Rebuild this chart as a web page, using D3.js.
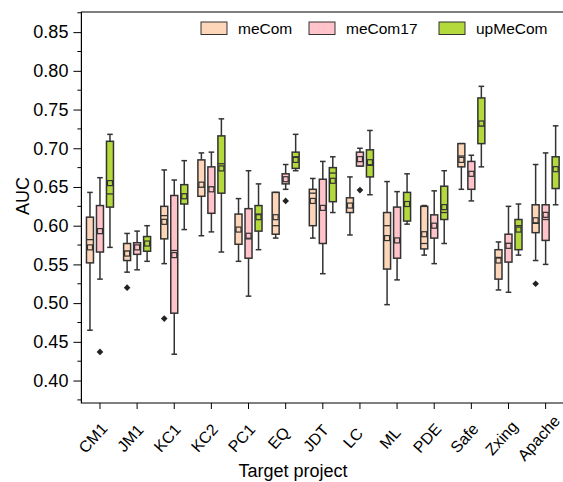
<!DOCTYPE html>
<html>
<head>
<meta charset="utf-8">
<script src="https://cdn.jsdelivr.net/npm/d3@7"></script>
<style>
  body { margin: 0; background: #fff; }
  text { font-family: "Liberation Sans", Arial, sans-serif; fill: #000; }
</style>
</head>
<body>
<div id="chart"></div>
<script>
// Categories and series
const categories = ["CM1", "JM1", "KC1", "KC2", "PC1", "EQ", "JDT", "LC", "ML", "PDE", "Safe", "Zxing", "Apache"];
const seriesNames = ["meCom", "meCom17", "upMeCom"];
const seriesColors = ["#fdd6b9", "#ffc3c9", "#b3d93d"];

// Each row: [whiskerLow, q1, median, q3, whiskerHigh, mean]
const meCom = [
    [0.465, 0.552, 0.582, 0.611, 0.643, 0.572],
    [0.540, 0.555, 0.567, 0.577, 0.590, 0.564],
    [0.551, 0.583, 0.613, 0.625, 0.672, 0.605],
    [0.587, 0.638, 0.650, 0.685, 0.694, 0.653],
    [0.554, 0.576, 0.593, 0.615, 0.635, 0.595],
    [0.584, 0.589, 0.600, 0.643, 0.643, 0.611],
    [0.584, 0.600, 0.642, 0.647, 0.661, 0.632],
    [0.588, 0.617, 0.624, 0.636, 0.663, 0.626],
    [0.498, 0.544, 0.600, 0.617, 0.657, 0.584],
    [0.562, 0.570, 0.577, 0.625, 0.626, 0.589],
    [0.647, 0.676, 0.690, 0.706, 0.706, 0.685],
    [0.517, 0.531, 0.559, 0.569, 0.579, 0.555],
    [0.555, 0.591, 0.603, 0.627, 0.679, 0.607]
];
const meCom17 = [
    [0.531, 0.566, 0.590, 0.626, 0.662, 0.593],
    [0.543, 0.563, 0.570, 0.578, 0.593, 0.572],
    [0.434, 0.487, 0.568, 0.639, 0.659, 0.562],
    [0.592, 0.616, 0.650, 0.676, 0.695, 0.647],
    [0.509, 0.558, 0.583, 0.622, 0.671, 0.587],
    [0.647, 0.654, 0.658, 0.667, 0.679, 0.660],
    [0.538, 0.577, 0.623, 0.660, 0.683, 0.623],
    [0.677, 0.677, 0.683, 0.695, 0.700, 0.686],
    [0.530, 0.558, 0.581, 0.624, 0.644, 0.581],
    [0.551, 0.584, 0.598, 0.614, 0.645, 0.600],
    [0.632, 0.647, 0.669, 0.683, 0.691, 0.667],
    [0.514, 0.553, 0.577, 0.589, 0.625, 0.574],
    [0.550, 0.581, 0.608, 0.627, 0.694, 0.614]
];
const upMeCom = [
    [0.572, 0.624, 0.641, 0.709, 0.718, 0.655],
    [0.554, 0.567, 0.579, 0.586, 0.600, 0.577],
    [0.595, 0.628, 0.641, 0.653, 0.684, 0.638],
    [0.566, 0.642, 0.680, 0.716, 0.738, 0.674],
    [0.569, 0.593, 0.615, 0.626, 0.654, 0.611],
    [0.671, 0.674, 0.689, 0.695, 0.718, 0.685],
    [0.617, 0.631, 0.668, 0.675, 0.689, 0.658],
    [0.640, 0.663, 0.678, 0.698, 0.723, 0.682],
    [0.602, 0.606, 0.630, 0.643, 0.667, 0.628],
    [0.577, 0.608, 0.617, 0.651, 0.671, 0.624],
    [0.676, 0.706, 0.729, 0.765, 0.780, 0.732],
    [0.562, 0.569, 0.600, 0.608, 0.628, 0.595],
    [0.627, 0.648, 0.675, 0.689, 0.729, 0.673]
];
// Outliers: [category, series, value]
const outliers = [
    ["CM1", "meCom17", 0.437],
    ["JM1", "meCom", 0.520],
    ["KC1", "meCom", 0.480],
    ["EQ", "meCom17", 0.632],
    ["LC", "meCom17", 0.646],
    ["Apache", "meCom", 0.525]
];
const yTicks = [0.40, 0.45, 0.50, 0.55, 0.60, 0.65, 0.70, 0.75, 0.80, 0.85];

const width = 563;
const height = 482;
const plotLeft = 81.4, plotTop = 12, plotBottom = 403, plotRight = 564.2;

const svg = d3.select("#chart").append("svg")
    .attr("width", width)
    .attr("height", height);

// Scales
const x = d3.scaleBand().domain(categories).range([plotLeft, plotRight]).padding(0);
const xSeries = d3.scalePoint().domain(seriesNames).range([-10, 10]);
const y = d3.scaleLinear().domain([0.371, 0.876]).range([plotBottom, plotTop]);
const color = d3.scaleOrdinal().domain(seriesNames).range(seriesColors);

// Y axis with minor ticks
const minorTicks = d3.range(0.375, 0.876, 0.05);
const yAxis = svg.append("g").attr("transform", `translate(${plotLeft},0)`);
yAxis.call(d3.axisLeft(y).tickValues(yTicks).tickFormat(d3.format(".2f")).tickSize(8).tickPadding(5));
yAxis.selectAll("text").attr("font-size", "18px");
yAxis.select(".domain").remove();
yAxis.selectAll(".minor")
    .data(minorTicks)
    .enter().append("line")
    .attr("class", "minor")
    .attr("x1", -4).attr("x2", 0)
    .attr("y1", d => y(d)).attr("y2", d => y(d))
    .attr("stroke", "#000");

// X axis, labels rotated about their centre
const xAxis = svg.append("g").attr("transform", `translate(0,${plotBottom})`);
xAxis.call(d3.axisBottom(x).tickSize(6).tickSizeOuter(0));
xAxis.select(".domain").remove();
xAxis.selectAll("text")
    .attr("font-size", "16px")
    .attr("text-anchor", "middle")
    .attr("x", 0).attr("y", 0)
    .attr("dy", "0.35em")
    .attr("transform", "translate(-7,35) rotate(-48)");

// Spines (left, top, bottom)
svg.append("path")
    .attr("d", `M${plotRight},${plotTop}H${plotLeft}V${plotBottom}H${plotRight}`)
    .attr("fill", "none")
    .attr("stroke", "#000")
    .attr("stroke-width", 1.2);

// Boxes
const allSeries = [meCom, meCom17, upMeCom];
const boxW = 7;
const boxes = [];
allSeries.forEach((rows, si) => {
    rows.forEach((r, ci) => {
        boxes.push({
            series: seriesNames[si], cat: categories[ci],
            lo: r[0], q1: r[1], med: r[2], q3: r[3], hi: r[4], mean: r[5]
        });
    });
});
const cx = d => x(d.cat) + x.bandwidth() / 2 + xSeries(d.series);

const g = svg.selectAll(".box").data(boxes).enter().append("g").attr("class", "box");
g.append("line")
    .attr("x1", cx).attr("x2", cx)
    .attr("y1", d => y(d.lo)).attr("y2", d => y(d.hi))
    .attr("stroke", "#333").attr("stroke-width", 1.5);
g.selectAll(".cap")
    .data(d => [[d, d.lo], [d, d.hi]])
    .enter().append("line")
    .attr("x1", ([d]) => cx(d) - 2.8).attr("x2", ([d]) => cx(d) + 2.8)
    .attr("y1", ([, v]) => y(v)).attr("y2", ([, v]) => y(v))
    .attr("stroke", "#333").attr("stroke-width", 1.5);
g.append("rect")
    .attr("x", d => cx(d) - boxW / 2)
    .attr("y", d => y(d.q3))
    .attr("width", boxW)
    .attr("height", d => Math.max(1, y(d.q1) - y(d.q3)))
    .attr("fill", d => color(d.series))
    .attr("stroke", "#333").attr("stroke-width", 1.5);
g.append("line")
    .attr("x1", d => cx(d) - boxW / 2).attr("x2", d => cx(d) + boxW / 2)
    .attr("y1", d => y(d.med)).attr("y2", d => y(d.med))
    .attr("stroke", "#333").attr("stroke-width", 1.3);
g.append("rect")
    .attr("x", d => cx(d) - 2.5)
    .attr("y", d => y(d.mean) - 2.5)
    .attr("width", 5).attr("height", 5)
    .attr("fill", d => color(d.series))
    .attr("stroke", "#333").attr("stroke-width", 1.2);

// Outliers
svg.selectAll(".outlier")
    .data(outliers)
    .enter().append("path")
    .attr("class", "outlier")
    .attr("d", d3.symbol().type(d3.symbolDiamond2).size(28))
    .attr("transform", d => `translate(${x(d[0]) + x.bandwidth() / 2 + xSeries(d[1])},${y(d[2])})`)
    .attr("fill", "#222");

// Axis titles
svg.append("text")
    .attr("transform", `translate(29,196) rotate(-90)`)
    .attr("text-anchor", "middle")
    .attr("font-size", "18px")
    .text("AUC");
svg.append("text")
    .attr("x", 293).attr("y", 477)
    .attr("text-anchor", "middle")
    .attr("font-size", "18px")
    .text("Target project");

// Legend
const legendX = [201, 309, 439];
const legend = svg.selectAll(".legend")
    .data(seriesNames)
    .enter().append("g")
    .attr("class", "legend")
    .attr("transform", (d, i) => `translate(${legendX[i]},22)`);
legend.append("rect")
    .attr("width", 26).attr("height", 12.5)
    .attr("fill", d => color(d))
    .attr("stroke", "#333").attr("stroke-width", 1);
legend.append("text")
    .attr("x", 37).attr("y", 12)
    .attr("font-size", "15.5px")
    .text(d => d);
</script>
</body>
</html>
